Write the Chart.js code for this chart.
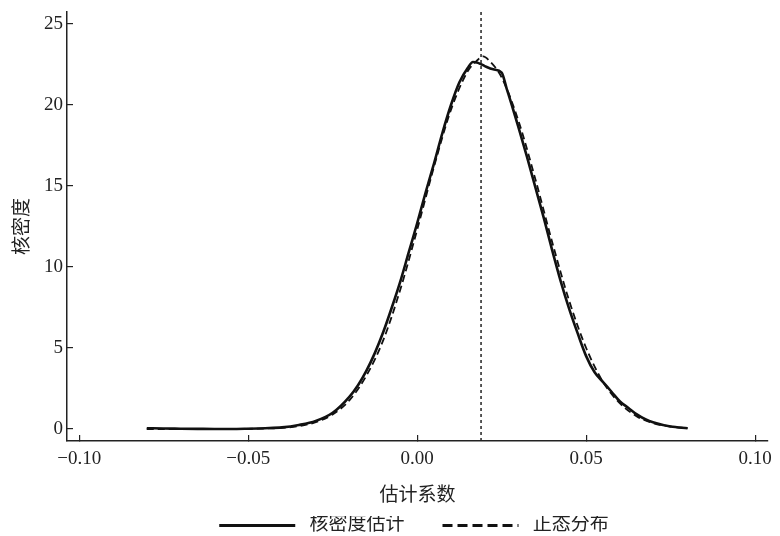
<!DOCTYPE html>
<html>
<head>
<meta charset="utf-8">
<script src="https://cdn.jsdelivr.net/npm/chart.js@4.4.1/dist/chart.umd.min.js"></script>
<style>
  body { margin: 0; background: #fff; }
</style>
</head>
<body>
<canvas id="myChart" width="780" height="536"></canvas>
<script>
// kernel density estimate (solid)
var kdeX = [-0.080, -0.075, -0.070, -0.065, -0.060, -0.055, -0.050, -0.045, -0.040, -0.035,
            -0.030, -0.025, -0.020, -0.0175, -0.015, -0.0125, -0.010, -0.0075, -0.005, -0.0025,
            0.000, 0.0025, 0.005, 0.0075, 0.010, 0.0125, 0.015, 0.0165, 0.018, 0.020,
            0.0225, 0.025, 0.0265, 0.028, 0.030, 0.0325, 0.035, 0.0375, 0.040, 0.0425,
            0.045, 0.0475, 0.050, 0.0525, 0.055, 0.0575, 0.060, 0.0625, 0.065, 0.0675,
            0.070, 0.075, 0.080];
var kdeY = [0.05, 0.03, 0.02, 0.01, 0.0, 0.0, 0.02, 0.05, 0.1, 0.25,
            0.5, 1.0, 2.0, 2.7, 3.6, 4.7, 6.0, 7.5, 9.1, 10.9,
            12.7, 14.6, 16.4, 18.3, 20.0, 21.4, 22.3, 22.65, 22.6, 22.4,
            22.2, 22.0, 21.0, 20.0, 18.6, 16.8, 14.9, 13.0, 11.0, 9.1,
            7.4, 5.9, 4.5, 3.5, 2.9, 2.3, 1.7, 1.3, 0.9, 0.6,
            0.4, 0.15, 0.05];

// normal distribution (dashed)
var normX = [-0.080, -0.060, -0.045, -0.040, -0.035, -0.030, -0.025, -0.020, -0.015, -0.010,
             -0.005, 0.000, 0.005, 0.010, 0.015, 0.0175, 0.0195, 0.0215, 0.025, 0.030,
             0.035, 0.040, 0.045, 0.050, 0.055, 0.060, 0.065, 0.070, 0.075, 0.080];
var normY = [0.0, 0.0, 0.03, 0.07, 0.18, 0.42, 0.9, 1.78, 3.3, 5.5,
             8.6, 12.3, 16.2, 19.7, 22.1, 22.7, 23.0, 22.7, 21.7, 19.0,
             15.4, 11.5, 7.9, 5.0, 2.9, 1.58, 0.78, 0.35, 0.15, 0.06];

var refX = 0.0189;            // dotted vertical reference line
var xMin = -0.1036, xMax = 0.1038;
var yMin = -0.74, yMax = 25.74;
var seriesNames = ['核密度估计', '正态分布'];

function toPoints(xs, ys) {
    return xs.map(function(x, i) { return {x: x, y: ys[i]}; });
}

Chart.defaults.font.family = '"Liberation Serif", "Noto Sans CJK SC", serif';
Chart.defaults.color = '#222';

// nudge the legend so it sits under the middle of the plot, as in the original
var shiftLegend = {
    id: 'shiftLegend',
    afterLayout: function(chart) {
        var lg = chart.legend;
        lg.left += 30; lg.right += 30;
        lg.top += 9; lg.bottom += 9;
    }
};

var ctx = document.getElementById('myChart');
var myChart = new Chart(ctx, {
    type: 'line',
    data: {
        datasets: [{
            label: seriesNames[0],
            data: toPoints(kdeX, kdeY),
            borderColor: '#111',
            borderWidth: 2.6,
            pointRadius: 0,
            cubicInterpolationMode: 'monotone'
        }, {
            label: seriesNames[1],
            data: toPoints(normX, normY),
            borderColor: '#111',
            borderWidth: 1.8,
            borderDash: [7, 4],
            pointRadius: 0,
            cubicInterpolationMode: 'monotone'
        }, {
            label: 'ref',
            data: [{x: refX, y: yMin}, {x: refX, y: yMax}],
            borderColor: '#222',
            borderWidth: 1.5,
            borderDash: [3, 3],
            pointRadius: 0
        }]
    },
    options: {
        responsive: false,
        animation: false,
        devicePixelRatio: 1,
        layout: { padding: { top: 12, right: 12, left: 0, bottom: 0 } },
        plugins: {
            tooltip: { enabled: false },
            legend: {
                position: 'bottom',
                labels: {
                    usePointStyle: true,
                    pointStyle: 'line',
                    pointStyleWidth: 76,
                    padding: 0,
                    color: '#222',
                    font: { size: 19 },
                    filter: function(item) { return item.datasetIndex < 2; },
                    generateLabels: function(chart) {
                        var items = Chart.defaults.plugins.legend.labels.generateLabels(chart);
                        items.forEach(function(it) {
                            var ds = chart.data.datasets[it.datasetIndex];
                            it.lineWidth = 3;
                            it.lineDash = ds.borderDash ? [10, 5] : [];
                            it.text = ' ' + it.text + (it.datasetIndex === 0 ? '        ' : '');
                        });
                        return items;
                    }
                }
            }
        },
        scales: {
            x: {
                type: 'linear',
                min: xMin,
                max: xMax,
                afterFit: function(scale) {
                    scale.height = 66;
                    scale.paddingLeft = 0;
                    scale.paddingRight = 0;
                },
                border: { color: '#222', width: 1.5 },
                grid: { drawOnChartArea: false, tickLength: -6, color: '#222', lineWidth: 1.2 },
                ticks: {
                    stepSize: 0.05,
                    includeBounds: false,
                    padding: 13,
                    font: { size: 19 },
                    maxRotation: 0,
                    callback: function(v) {
                        return (v < -1e-9 ? '\u2212' : '') + Math.abs(v).toFixed(2);
                    }
                },
                title: { display: true, text: '估计系数', font: { size: 19 }, padding: { top: 0, bottom: 0 } }
            },
            y: {
                min: yMin,
                max: yMax,
                afterFit: function(scale) {
                    scale.width = 67;
                    scale.paddingTop = 0;
                    scale.paddingBottom = 0;
                },
                border: { color: '#222', width: 1.5 },
                grid: { drawOnChartArea: false, tickLength: -6, color: '#222', lineWidth: 1.2 },
                ticks: {
                    stepSize: 5,
                    includeBounds: false,
                    padding: 10,
                    font: { size: 19 }
                },
                title: { display: true, text: '核密度', font: { size: 19 }, padding: { top: 12, bottom: 0 } }
            }
        }
    },
    plugins: [shiftLegend]
});
</script>
</body>
</html>
